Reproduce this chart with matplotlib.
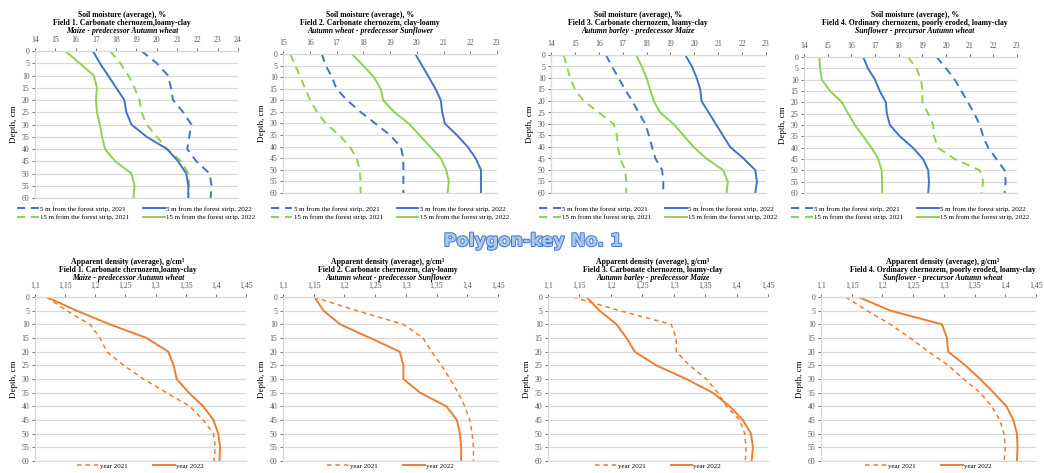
#!/usr/bin/env python3
# -*- coding: utf-8 -*-
"""Polygon-key No. 1: soil moisture (top row) and apparent density (bottom row), 4 fields."""
import matplotlib
matplotlib.use("Agg")
import matplotlib.pyplot as plt
import matplotlib.patheffects as pe

W, H = 1044, 473
DEPTH = [0, 5, 10, 15, 20, 25, 30, 35, 40, 45, 50, 55, 60]

# soil moisture, % : 5 m / 15 m from the forest strip, 2021 / 2022
SM_F1_5_21 = [19.25, 20.0, 20.55, 20.7, 20.8, 21.3, 21.7, 21.6, 21.5, 21.95, 22.6, 22.7, 22.65]
SM_F1_5_22 = [16.85, 17.2, 17.6, 18.0, 18.4, 18.5, 18.75, 19.5, 20.5, 21.05, 21.45, 21.55, 21.55]
SM_F1_15_21 = [17.7, 18.2, 18.6, 18.9, 19.15, 19.25, 19.5, 20.0, 20.5, 21.2, 21.55, 21.6, 21.55]
SM_F1_15_22 = [15.5, 16.2, 16.9, 17.05, 17.0, 17.05, 17.2, 17.3, 17.45, 17.95, 18.75, 18.9, 18.85]

SM_F2_5_21 = [16.45, 16.6, 16.83, 17.0, 17.4, 17.9, 18.45, 19.0, 19.4, 19.5, 19.5, 19.5, 19.5]
SM_F2_5_22 = [19.95, 20.2, 20.45, 20.7, 20.9, 20.95, 21.05, 21.5, 21.9, 22.2, 22.4, 22.4, 22.4]
SM_F2_15_21 = [15.27, 15.46, 15.65, 15.83, 16.02, 16.27, 16.6, 17.1, 17.5, 17.75, 17.87, 17.9, 17.9]
SM_F2_15_22 = [17.58, 18.0, 18.4, 18.65, 18.75, 19.15, 19.7, 20.1, 20.5, 20.9, 21.1, 21.2, 21.15]

SM_F3_5_21 = [16.3, 16.55, 16.83, 17.1, 17.4, 17.67, 17.95, 18.1, 18.23, 18.37, 18.65, 18.7, 18.7]
SM_F3_5_22 = [19.62, 19.9, 20.1, 20.25, 20.3, 20.6, 20.9, 21.2, 21.5, 22.06, 22.55, 22.62, 22.55]
SM_F3_15_21 = [14.53, 14.67, 14.8, 15.0, 15.37, 16.0, 16.62, 16.76, 16.8, 16.9, 17.1, 17.15, 17.15]
SM_F3_15_22 = [17.57, 17.8, 18.0, 18.15, 18.3, 18.57, 19.13, 19.55, 19.97, 20.5, 21.2, 21.4, 21.35]

SM_F4_5_21 = [19.6, 20.0, 20.37, 20.65, 20.93, 21.2, 21.43, 21.57, 21.78, 22.13, 22.48, 22.52, 22.48]
SM_F4_5_22 = [16.5, 16.7, 17.0, 17.2, 17.46, 17.5, 17.63, 18.05, 18.6, 19.03, 19.25, 19.28, 19.25]
SM_F4_15_21 = [18.4, 18.75, 18.95, 19.0, 19.0, 19.25, 19.46, 19.5, 19.65, 20.37, 21.43, 21.57, 21.5]
SM_F4_15_22 = [14.65, 14.68, 14.75, 15.1, 15.6, 15.87, 16.15, 16.5, 16.85, 17.14, 17.28, 17.3, 17.3]

# apparent density, g/cm3 : 2021 / 2022
AD_F1_21 = [1.119, 1.1525, 1.191, 1.208, 1.219, 1.247, 1.28, 1.318, 1.357, 1.379, 1.396, 1.399, 1.397]
AD_F1_22 = [1.119, 1.169, 1.224, 1.285, 1.321, 1.330, 1.335, 1.355, 1.379, 1.396, 1.404, 1.407, 1.406]
AD_F2_21 = [1.15, 1.22, 1.296, 1.328, 1.342, 1.358, 1.372, 1.385, 1.396, 1.404, 1.408, 1.41, 1.41]
AD_F2_22 = [1.151, 1.166, 1.193, 1.242, 1.29, 1.296, 1.296, 1.323, 1.366, 1.383, 1.388, 1.39, 1.39]
AD_F3_21 = [1.14, 1.214, 1.296, 1.304, 1.304, 1.325, 1.352, 1.37, 1.384, 1.405, 1.413, 1.415, 1.414]
AD_F3_22 = [1.161, 1.182, 1.209, 1.225, 1.238, 1.272, 1.32, 1.362, 1.389, 1.41, 1.423, 1.426, 1.424]
AD_F4_21 = [1.14, 1.175, 1.213, 1.245, 1.275, 1.307, 1.332, 1.359, 1.378, 1.391, 1.398, 1.4, 1.398]
AD_F4_22 = [1.161, 1.213, 1.297, 1.305, 1.307, 1.335, 1.359, 1.381, 1.402, 1.413, 1.419, 1.42, 1.419]

FIELDS = ["Field 1. Carbonate chernozem,loamy-clay",
          "Field 2. Carbonate chernozem, clay-loamy",
          "Field 3. Carbonate chernozem, loamy-clay",
          "Field 4. Ordinary chernozem, poorly eroded, loamy-clay"]
CROPS = ["Maize - predecessor Autumn wheat",
         "Autumn wheat - predecessor Sunflower",
         "Autumn barley - predecessor Maize",
         "Sunflower - precursor Autumn wheat"]
SM_XLIM = [(14, 24), (15, 23), (14, 23), (14, 23)]
AD_TICKS = [1.1, 1.15, 1.2, 1.25, 1.3, 1.35, 1.4, 1.45]
AD_TICKLAB = ["1,1", "1,15", "1,2", "1,25", "1,3", "1,35", "1,4", "1,45"]

BLUE, GREEN, ORANGE, GRID = "#4472C4", "#92D050", "#ED7D31", "#D9D9D9"
plt.rcParams["font.family"] = ["Liberation Serif", "DejaVu Serif"]

# axes boxes in px (left, top, right, bottom), title centre x
TOP_BOX = [(35, 51, 238, 198), (283, 54, 497, 193), (551, 55, 766, 193), (804, 57, 1017, 193)]
TOP_TC = [122, 370, 638, 915]
BOT_BOX = [(35, 297, 246, 461), (283, 297, 498, 461), (548, 297, 768, 461), (821, 297, 1036, 461)]
BOT_TC = [128, 388, 653, 943]


def add_ax(fig, box):
    l, t, r, b = box
    return fig.add_axes([l / W, 1 - b / H, (r - l) / W, (b - t) / H])


def style(ax):
    ax.set_ylim(60, 0)
    ax.set_yticks(range(0, 61, 5))
    ax.xaxis.tick_top()
    ax.grid(axis="y", color=GRID, lw=0.9)
    ax.set_axisbelow(True)
    ax.spines["right"].set_visible(False)
    for s in ("left", "top", "bottom"):
        ax.spines[s].set_color(GRID)
        ax.spines[s].set_linewidth(0.9)
    ax.tick_params(labelsize=5.6, colors="#595959", length=2, width=0.6, pad=2)
    ax.tick_params(axis="x", pad=3)
    ax.set_ylabel("Depth, cm", fontsize=6.5, labelpad=3)


def head(fig, xc, ys, lines):
    for y, txt, it in zip(ys, lines, (False, False, True)):
        fig.text(xc / W, 1 - y / H, txt, ha="center", va="center", fontsize=5.6,
                 weight="bold", style="italic" if it else "normal")


def main():
    fig = plt.figure(figsize=(W / 100, H / 100), dpi=100)
    sm = [(SM_F1_5_21, SM_F1_5_22, SM_F1_15_21, SM_F1_15_22),
          (SM_F2_5_21, SM_F2_5_22, SM_F2_15_21, SM_F2_15_22),
          (SM_F3_5_21, SM_F3_5_22, SM_F3_15_21, SM_F3_15_22),
          (SM_F4_5_21, SM_F4_5_22, SM_F4_15_21, SM_F4_15_22)]
    ad = [(AD_F1_21, AD_F1_22), (AD_F2_21, AD_F2_22), (AD_F3_21, AD_F3_22), (AD_F4_21, AD_F4_22)]
    dash = (0, (4.2, 3))

    # ---------- soil moisture ----------
    for i in range(4):
        ax = add_ax(fig, TOP_BOX[i])
        a, b, c, d = sm[i]
        ax.plot(a, DEPTH, color=BLUE, lw=1.4, ls=dash, label="5 m from the forest strip, 2021")
        ax.plot(c, DEPTH, color=GREEN, lw=1.4, ls=dash, label="15 m from the forest strip, 2021")
        ax.plot(b, DEPTH, color=BLUE, lw=1.4, label="5 m from the forest strip, 2022")
        ax.plot(d, DEPTH, color=GREEN, lw=1.4, label="15 m from the forest strip, 2022")
        lo, hi = SM_XLIM[i]
        ax.set_xlim(lo, hi); ax.set_xticks(range(lo, hi + 1))
        style(ax)
        head(fig, TOP_TC[i], (15, 23, 31), ("Soil moisture (average), %", FIELDS[i], CROPS[i]))
        l, t, r, bb = TOP_BOX[i]
        ax.legend(ncol=2, loc="upper center", bbox_to_anchor=((l + r) / 2 / W, 1 - 206 / H),
                  bbox_transform=fig.transFigure, frameon=False, fontsize=5.0,
                  handlelength=3.1, handletextpad=0.2, columnspacing=2.0, labelspacing=0.35,
                  borderaxespad=0, borderpad=0)

    # ---------- apparent density ----------
    for i in range(4):
        ax = add_ax(fig, BOT_BOX[i])
        a, b = ad[i]
        ax.plot(a, DEPTH, color=ORANGE, lw=1.1, ls=(0, (3, 2.5)), label="year 2021")
        ax.plot(b, DEPTH, color=ORANGE, lw=1.4, label="year 2022")
        ax.set_xlim(1.1, 1.45); ax.set_xticks(AD_TICKS); ax.set_xticklabels(AD_TICKLAB)
        style(ax)
        head(fig, BOT_TC[i], (262, 270, 278),
             ("Apparent density (average), g/cm³", FIELDS[i], CROPS[i]))
        l, t, r, bb = BOT_BOX[i]
        ax.legend(ncol=2, loc="upper center", bbox_to_anchor=((l + r) / 2 / W, 1 - 463 / H),
                  bbox_transform=fig.transFigure, frameon=False, fontsize=5.0,
                  handlelength=3.1, handletextpad=0.2, columnspacing=3.6,
                  borderaxespad=0, borderpad=0)

    fig.text(533 / W, 1 - 241 / H, "Polygon-key No. 1", ha="center", va="center", fontsize=12.6,
             weight="bold", family="DejaVu Sans", color="#A9C8EE",
             path_effects=[pe.withStroke(linewidth=1.5, foreground="#4A7FD0")])

    fig.savefig("out.png", dpi=100)


if __name__ == "__main__":
    main()
